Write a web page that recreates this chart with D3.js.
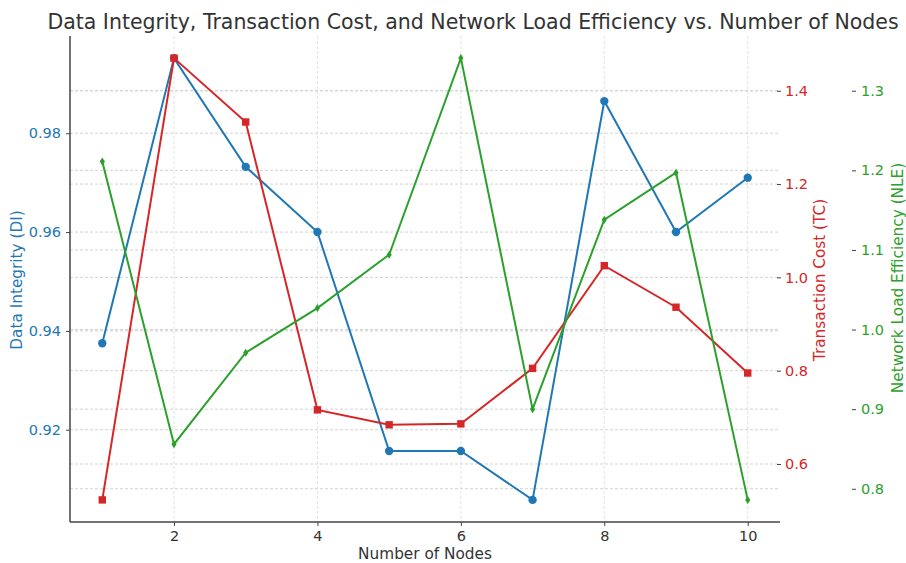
<!DOCTYPE html>
<html>
<head>
<meta charset="utf-8">
<script src="https://cdn.jsdelivr.net/npm/d3@7"></script>
<style>
  body { margin: 0; background: #fff; }
  svg text { font-family: "DejaVu Sans", sans-serif; }
</style>
</head>
<body>
<div id="chart"></div>
<script>
"use strict";

// values
var nodes = [1, 2, 3, 4, 5, 6, 7, 8, 9, 10];
var dataIntegrity = [0.9375, 0.9952, 0.9732, 0.9600, 0.9157, 0.9157, 0.9058, 0.9865, 0.9600, 0.9710];
var transactionCost = [0.523, 1.470, 1.333, 0.716, 0.684, 0.686, 0.805, 1.025, 0.936, 0.795];
var networkLoad = [1.211, 0.856, 0.971, 1.027, 1.094, 1.341, 0.900, 1.138, 1.197, 0.786];

var xTicks = [2, 4, 6, 8, 10];
var diTicks = [0.92, 0.94, 0.96, 0.98];
var tcTicks = [0.6, 0.8, 1.0, 1.2, 1.4];
var nleTicks = [0.8, 0.9, 1.0, 1.1, 1.2, 1.3];

const width = 906, height = 563;
const plotLeft = 70, plotRight = 780, plotTop = 36, plotBottom = 522;
const blue = "#1f77b4", red = "#d62728", green = "#2ca02c";
const tickFont = "14.5px", labelFont = "15.3px";

// matplotlib-like 5% padding on the data range
function padded(values) {
	let [lo, hi] = d3.extent(values);
	let m = (hi - lo) * 0.05;
	return [lo - m, hi + m];
}

let x = d3.scaleLinear().domain(padded(nodes)).range([plotLeft, plotRight]);
let yDI = d3.scaleLinear().domain(padded(dataIntegrity)).range([plotBottom, plotTop]);
let yTC = d3.scaleLinear().domain(padded(transactionCost)).range([plotBottom, plotTop]);
let yNLE = d3.scaleLinear().domain(padded(networkLoad)).range([plotBottom, plotTop]);

let svg = d3.select("#chart").append("svg")
	.attr("width", width)
	.attr("height", height);

// grid lines
let grid = svg.append("g")
	.attr("stroke", "#d2d2d2")
	.attr("stroke-width", 1)
	.attr("stroke-dasharray", "3,2");

grid.selectAll("line.gx").data(xTicks).enter().append("line")
	.attr("x1", d => x(d)).attr("x2", d => x(d))
	.attr("y1", plotTop).attr("y2", plotBottom)
	.attr("stroke", "#e2e2e2");

[[yDI, diTicks], [yTC, tcTicks], [yNLE, nleTicks]].forEach(([scale, ticks]) => {
	grid.append("g").selectAll("line").data(ticks).enter().append("line")
		.attr("x1", plotLeft).attr("x2", plotRight)
		.attr("y1", d => scale(d)).attr("y2", d => scale(d));
});

// axes
let xAxis = svg.append("g")
	.attr("transform", `translate(0,${plotBottom})`)
	.call(d3.axisBottom(x).tickValues(xTicks).tickSize(4).tickPadding(5).tickFormat(d3.format("d")));
xAxis.select(".domain").attr("stroke", "#444").attr("stroke-width", 1.5)
	.attr("d", `M${plotLeft},0H${plotRight}`);
xAxis.selectAll(".tick line").attr("stroke", "#444");
xAxis.selectAll(".tick text").attr("fill", "#333").style("font-size", tickFont);

let diAxis = svg.append("g")
	.attr("transform", `translate(${plotLeft},0)`)
	.call(d3.axisLeft(yDI).tickValues(diTicks).tickSize(4).tickPadding(5).tickFormat(d3.format(".2f")));
diAxis.select(".domain").attr("stroke", "#444").attr("stroke-width", 1.5)
	.attr("d", `M0,${plotTop}V${plotBottom}`);
diAxis.selectAll(".tick line").attr("stroke", "#444");
diAxis.selectAll(".tick text").attr("fill", blue).style("font-size", tickFont);

let tcAxis = svg.append("g")
	.attr("transform", `translate(${plotRight - 3},0)`)
	.call(d3.axisRight(yTC).tickValues(tcTicks).tickSize(4).tickPadding(4).tickFormat(d3.format(".1f")));
tcAxis.select(".domain").remove();
tcAxis.selectAll(".tick line").attr("stroke", "#444");
tcAxis.selectAll(".tick text").attr("fill", red).style("font-size", tickFont);

let nleAxis = svg.append("g")
	.attr("transform", `translate(852,0)`)
	.call(d3.axisRight(yNLE).tickValues(nleTicks).tickSize(4).tickPadding(5).tickFormat(d3.format(".1f")));
nleAxis.select(".domain").remove();
nleAxis.selectAll(".tick line").attr("stroke", "#444");
nleAxis.selectAll(".tick text").attr("fill", green).style("font-size", tickFont);

// series
function drawSeries(values, scale, colour, shape, size) {
	let pts = nodes.map((n, i) => [x(n), scale(values[i])]);
	svg.append("path")
		.attr("d", d3.line()(pts))
		.attr("fill", "none")
		.attr("stroke", colour)
		.attr("stroke-width", 2);
	svg.append("g").selectAll("path").data(pts).enter().append("path")
		.attr("transform", d => `translate(${d[0]},${d[1]})`)
		.attr("d", shape === "diamond"
			? "M0,-4L2.6,0L0,4L-2.6,0Z"
			: d3.symbol().type(shape).size(size)())
		.attr("fill", colour);
}

drawSeries(dataIntegrity, yDI, blue, d3.symbolCircle, 55);
drawSeries(transactionCost, yTC, red, d3.symbolSquare, 55);
drawSeries(networkLoad, yNLE, green, "diamond", 0);

// labels
svg.append("text")
	.attr("x", 473).attr("y", 29)
	.attr("text-anchor", "middle")
	.attr("fill", "#333")
	.style("font-size", "20.5px")
	.text("Data Integrity, Transaction Cost, and Network Load Efficiency vs. Number of Nodes");

svg.append("text")
	.attr("x", (plotLeft + plotRight) / 2).attr("y", 559)
	.attr("text-anchor", "middle")
	.attr("fill", "#333")
	.style("font-size", labelFont)
	.text("Number of Nodes");

svg.append("text")
	.attr("transform", "translate(22,280) rotate(-90)")
	.attr("text-anchor", "middle")
	.attr("fill", blue)
	.style("font-size", labelFont)
	.text("Data Integrity (DI)");

svg.append("text")
	.attr("transform", "translate(825,280) rotate(-90)")
	.attr("text-anchor", "middle")
	.attr("fill", red)
	.style("font-size", labelFont)
	.text("Transaction Cost (TC)");

svg.append("text")
	.attr("transform", "translate(903,278) rotate(-90)")
	.attr("text-anchor", "middle")
	.attr("fill", green)
	.style("font-size", labelFont)
	.text("Network Load Efficiency (NLE)");
</script>
</body>
</html>
